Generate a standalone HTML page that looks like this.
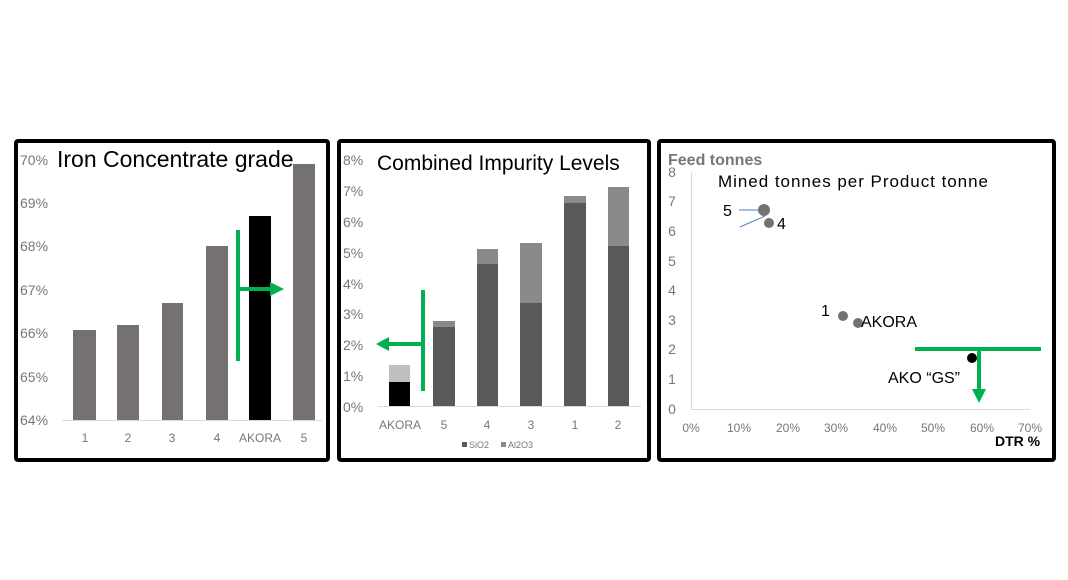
<!DOCTYPE html>
<html><head><meta charset="utf-8"><style>
body{margin:0;background:#fff}
svg{display:block;font-family:"Liberation Sans",sans-serif}
</style></head><body>
<svg width="1068" height="580" viewBox="0 0 1068 580">
<rect x="0" y="0" width="1068" height="580" fill="#fff"/>
<!-- Panel 1 -->
<rect x="16" y="141" width="312" height="319" fill="#fff" stroke="#000" stroke-width="4" rx="2"/>
<g fill="#777" font-size="14" text-anchor="start">
<text x="20" y="165">70%</text><text x="20" y="208">69%</text><text x="20" y="251">68%</text>
<text x="20" y="295">67%</text><text x="20" y="338">66%</text><text x="20" y="382">65%</text><text x="20" y="425">64%</text>
</g>
<line x1="62" y1="420.5" x2="322" y2="420.5" stroke="#d9d9d9" stroke-width="1"/>
<g fill="#767171">
<rect x="73" y="330" width="23" height="90"/><rect x="117" y="325" width="22" height="95"/>
<rect x="162" y="303" width="21" height="117"/><rect x="206" y="246" width="22" height="174"/>
<rect x="293" y="164" width="22" height="256"/>
</g>
<rect x="249" y="216" width="22" height="204" fill="#000"/>
<text x="57" y="167" font-size="23" fill="#000">Iron Concentrate grade</text>
<g fill="#777" font-size="12" text-anchor="middle">
<text x="85" y="442">1</text><text x="128" y="442">2</text><text x="172" y="442">3</text>
<text x="217" y="442">4</text><text x="260" y="442">AKORA</text><text x="304" y="442">5</text>
</g>
<line x1="238" y1="230" x2="238" y2="361" stroke="#00b050" stroke-width="4"/>
<line x1="238" y1="289" x2="272" y2="289" stroke="#00b050" stroke-width="4"/>
<polygon points="270,282 284,289 270,296" fill="#00b050"/>

<!-- Panel 2 -->
<rect x="339" y="141" width="310" height="319" fill="#fff" stroke="#000" stroke-width="4" rx="2"/>
<g fill="#777" font-size="14">
<text x="343" y="165">8%</text><text x="343" y="196">7%</text><text x="343" y="227">6%</text>
<text x="343" y="258">5%</text><text x="343" y="289">4%</text><text x="343" y="319">3%</text>
<text x="343" y="350">2%</text><text x="343" y="381">1%</text><text x="343" y="412">0%</text>
</g>
<line x1="378" y1="406.5" x2="641" y2="406.5" stroke="#d9d9d9"/>
<rect x="389" y="382" width="21" height="24" fill="#000"/>
<rect x="389" y="365" width="21" height="17" fill="#bfbfbf"/>
<g fill="#595959">
<rect x="433" y="327" width="22" height="79"/><rect x="477" y="264" width="21" height="142"/>
<rect x="520" y="303" width="22" height="103"/><rect x="564" y="203" width="22" height="203"/>
<rect x="608" y="246" width="21" height="160"/>
</g>
<g fill="#8a8a8a">
<rect x="433" y="321" width="22" height="6"/><rect x="477" y="249" width="21" height="15"/>
<rect x="520" y="243" width="22" height="60"/><rect x="564" y="196" width="22" height="7"/>
<rect x="608" y="187" width="21" height="59"/>
</g>
<text x="377" y="170" font-size="21" fill="#000">Combined Impurity Levels</text>
<g fill="#777" font-size="12" text-anchor="middle">
<text x="400" y="429">AKORA</text><text x="444" y="429">5</text><text x="487" y="429">4</text>
<text x="531" y="429">3</text><text x="575" y="429">1</text><text x="618" y="429">2</text>
</g>
<rect x="462" y="442" width="5" height="5" fill="#595959"/>
<text x="469" y="448" font-size="9" fill="#777">SiO2</text>
<rect x="501" y="442" width="5" height="5" fill="#8a8a8a"/>
<text x="508" y="448" font-size="9" fill="#777">Al2O3</text>
<line x1="423" y1="290" x2="423" y2="391" stroke="#00b050" stroke-width="4"/>
<line x1="423" y1="344" x2="386" y2="344" stroke="#00b050" stroke-width="4"/>
<polygon points="389,337 376,344 389,351" fill="#00b050"/>

<!-- Panel 3 -->
<rect x="659" y="141" width="395" height="319" fill="#fff" stroke="#000" stroke-width="4" rx="2"/>
<line x1="691.5" y1="172" x2="691.5" y2="409" stroke="#d9d9d9"/>
<line x1="691" y1="409.5" x2="1030" y2="409.5" stroke="#d9d9d9"/>
<g fill="#777" font-size="14" text-anchor="middle">
<text x="672" y="177">8</text><text x="672" y="206">7</text><text x="672" y="236">6</text>
<text x="672" y="266">5</text><text x="672" y="295">4</text><text x="672" y="325">3</text>
<text x="672" y="354">2</text><text x="672" y="384">1</text><text x="672" y="414">0</text>
</g>
<g fill="#777" font-size="12" text-anchor="middle">
<text x="691" y="432">0%</text><text x="739" y="432">10%</text><text x="788" y="432">20%</text>
<text x="836" y="432">30%</text><text x="885" y="432">40%</text><text x="933" y="432">50%</text>
<text x="982" y="432">60%</text><text x="1030" y="432">70%</text>
</g>
<text x="668" y="165" font-size="16" font-weight="bold" fill="#777">Feed tonnes</text>
<text x="995" y="446" font-size="14" font-weight="bold" fill="#000">DTR %</text>
<text x="718" y="187" font-size="17" fill="#000" textLength="270">Mined tonnes per Product tonne</text>
<line x1="739" y1="210" x2="762" y2="210" stroke="#4a7ebb" stroke-width="1"/>
<line x1="740" y1="227" x2="765" y2="216" stroke="#4a7ebb" stroke-width="1"/>
<circle cx="764" cy="210" r="6" fill="#767171"/>
<circle cx="769" cy="223" r="5" fill="#767171"/>
<circle cx="843" cy="316" r="5" fill="#767171"/>
<circle cx="858" cy="323" r="5" fill="#767171"/>
<circle cx="972" cy="358" r="5" fill="#000"/>
<g font-size="16" fill="#000">
<text x="723" y="216">5</text><text x="777" y="229">4</text><text x="821" y="316">1</text>
<text x="861" y="327">AKORA</text><text x="888" y="383">AKO “GS”</text>
</g>
<line x1="915" y1="349" x2="1041" y2="349" stroke="#00b050" stroke-width="4"/>
<line x1="979" y1="349" x2="979" y2="392" stroke="#00b050" stroke-width="4"/>
<polygon points="972,389 979,403 986,389" fill="#00b050"/>
</svg>
</body></html>
